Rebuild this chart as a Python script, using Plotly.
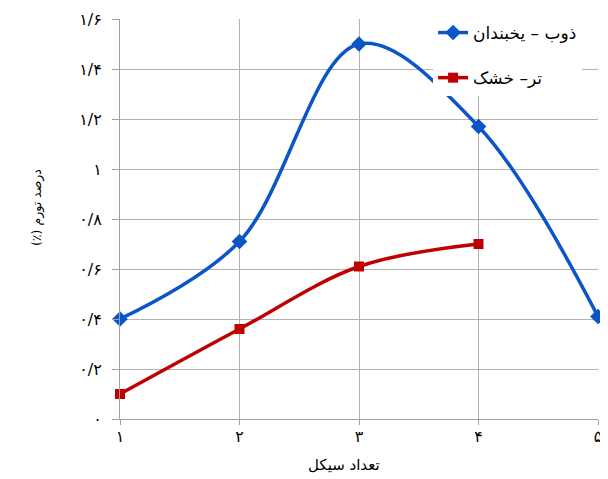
import plotly.graph_objects as go

cycles = [1, 2, 3, 4, 5]
x_tick_labels = ["۱", "۲", "۳", "۴", "۵"]
freeze_thaw = [0.40, 0.71, 1.50, 1.17, 0.41]
wet_dry_x = [1, 2, 3, 4]
wet_dry = [0.10, 0.36, 0.61, 0.70]
y_tick_vals = [0, 0.2, 0.4, 0.6, 0.8, 1.0, 1.2, 1.4, 1.6]
y_tick_labels = ["۰", "۰/۲", "۰/۴", "۰/۶", "۰/۸", "۱", "۱/۲", "۱/۴", "۱/۶"]

RLM = "\u200f"
name_ft = RLM + "ذوب – یخبندان" + RLM
name_wd = RLM + "تر– خشک" + RLM
x_title = RLM + "تعداد سیکل" + RLM
y_title = RLM + "درصد تورم (٪)" + RLM

fig = go.Figure()
fig.add_trace(go.Scatter(
    x=cycles, y=freeze_thaw, name=name_ft, mode="lines+markers",
    legendgroup="a",
    line=dict(color="#0a56c6", width=3.5, shape="spline", smoothing=1.0),
    marker=dict(symbol="diamond", size=12, color="#0a56c6"),
    cliponaxis=False,
))
fig.add_trace(go.Scatter(
    x=wet_dry_x, y=wet_dry, name=name_wd, mode="lines+markers",
    legendgroup="b",
    line=dict(color="#c00000", width=3.5, shape="spline", smoothing=1.0),
    marker=dict(symbol="square", size=10, color="#c00000"),
    cliponaxis=False,
))

font_family = "DejaVu Sans, sans-serif"
fig.update_layout(
    width=600, height=471,
    margin=dict(l=112, r=10, t=11, b=60, autoexpand=False),
    paper_bgcolor="white", plot_bgcolor="white",
    font=dict(family=font_family, color="black", size=14),
    showlegend=True,
    legend=dict(
        x=0.655, y=1.01, xanchor="left", yanchor="top",
        bgcolor="white", borderwidth=0,
        font=dict(size=17),
        traceorder="grouped",
        tracegroupgap=20,
    ),
    xaxis=dict(
        range=[1, 5], tickvals=cycles, ticktext=x_tick_labels,
        automargin=False,
        showgrid=True, gridcolor="#b3b3b3", gridwidth=1,
        showline=True, linecolor="#a0a0a0", linewidth=1,
        ticks="outside", ticklen=5, tickcolor="#a0a0a0",
        ticklabelstandoff=-2,
        tickfont=dict(size=16),
        zeroline=False,
    ),
    yaxis=dict(
        range=[0, 1.6], tickvals=y_tick_vals, ticktext=y_tick_labels,
        automargin=False,
        showgrid=True, gridcolor="#b3b3b3", gridwidth=1,
        showline=True, linecolor="#a0a0a0", linewidth=1,
        ticks="outside", ticklen=7, tickcolor="#a0a0a0",
        ticklabelstandoff=7,
        tickfont=dict(size=16),
        zeroline=False,
    ),
    annotations=[
        dict(text=x_title, xref="paper", yref="paper", x=0.4686, y=-0.115,
             xanchor="center", yanchor="middle", showarrow=False,
             font=dict(size=15)),
        dict(text=y_title, xref="paper", yref="paper", x=-0.1736, y=0.5275,
             xanchor="center", yanchor="middle", showarrow=False,
             textangle=-90, font=dict(size=12.5)),
    ],
)

fig.write_html("out.html")
